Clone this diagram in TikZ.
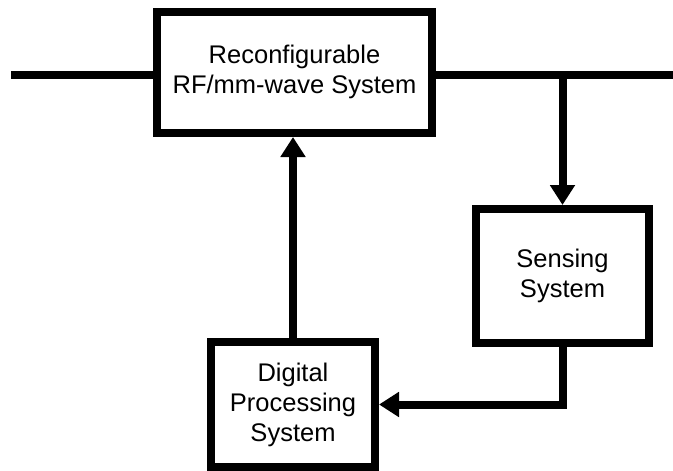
\documentclass[tikz,border=0pt]{standalone}
\usepackage{fontspec}
\setmainfont{Liberation Sans}
\usetikzlibrary{arrows.meta}

\begin{document}
\begin{tikzpicture}[x=1pt,y=-1pt,>={Triangle[length=20pt,width=24pt]},line width=8pt]
	\useasboundingbox (0,0) rectangle (673,471);
	\tikzset{
		block/.style={
			draw, % General options for all boxes
			fill=white,
			align=center,
			inner sep=0pt,
			font=\fontsize{25.5}{30}\selectfont,
		},
	}
	\node[block,minimum width=275pt,minimum height=121.5pt] (rf) at (294.5,72.25)
		{Reconfigurable\\RF/mm-wave System};
	\node[block,minimum width=173pt,minimum height=134pt] (sens) at (562.5,276)
		{Sensing\\System};
	\node[block,minimum width=164pt,minimum height=125pt] (dig) at (293,404.5)
		{Digital\\Processing\\System};

	\coordinate (in) at (11,75);
	\coordinate (out) at (673,75);
	\coordinate (tap) at (sens.north |- out);

	\draw (in) -- (in -| rf.west);
	\draw (rf.east |- out) -- (out);
	\draw[->] (tap) -- (sens.north);
	\draw[->] (sens.south) |- (dig.east);
	\draw[->] (dig.north) -- (dig.north |- rf.south);

\end{tikzpicture}
\end{document}
